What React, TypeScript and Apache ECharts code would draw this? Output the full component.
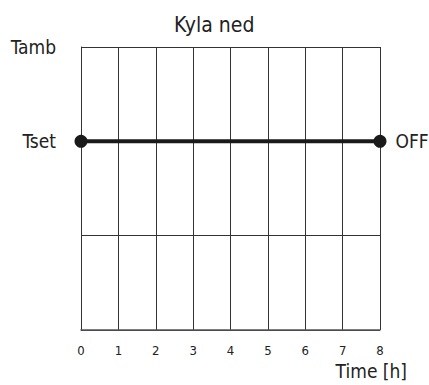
import React, { useEffect, useRef } from "react";
import * as echarts from "echarts";

const hours = [0, 1, 2, 3, 4, 5, 6, 7, 8];
const yTickLabels: Record<number, string> = { 3: "Tamb", 2: "Tset" };
const lineX = [0, 8];
const lineY = [2, 2];
const endLabel = "OFF";
const titleText = "Kyla ned";
const xName = "Time [h]";

const FONT = "'DejaVu Sans Condensed', 'Liberation Sans Narrow', 'Liberation Sans', sans-serif";

export default function App() {
  const ref = useRef<HTMLDivElement>(null);
  useEffect(() => {
    if (!ref.current) return;
    document.body.style.margin = "0";
    const chart = echarts.init(ref.current, undefined, { renderer: "svg" });
    const data = lineX.map((x, i) => {
      const item: any = { value: [x, lineY[i]] };
      if (i === lineX.length - 1) {
        item.label = {
          show: true,
          position: "right",
          distance: 9,
          formatter: endLabel,
          fontFamily: FONT,
          fontSize: 19,
          color: "#222",
        };
      }
      return item;
    });
    chart.setOption({
      animation: false,
      backgroundColor: "#fff",
      title: {
        text: titleText,
        left: 169,
        top: 9,
        textStyle: { fontFamily: FONT, fontSize: 21, fontWeight: "normal", color: "#222" },
      },
      grid: { left: 81, right: 49, top: 47, bottom: 55, containLabel: false },
      xAxis: {
        type: "value",
        min: hours[0],
        max: hours[hours.length - 1],
        interval: 1,
        axisLine: { show: true, lineStyle: { color: "#555", width: 1.5 } },
        axisTick: { show: false },
        axisLabel: {
          margin: 14,
          fontFamily: FONT,
          fontSize: 13,
          color: "#222",
        },
        splitLine: { show: true, lineStyle: { color: "#333", width: 1, type: "solid" } },
      },
      yAxis: {
        type: "value",
        min: 0,
        max: 3,
        interval: 1,
        axisLine: { show: true, lineStyle: { color: "#333", width: 1 } },
        axisTick: { show: false },
        axisLabel: {
          margin: 25,
          fontFamily: FONT,
          fontSize: 19,
          color: "#222",
          formatter: (v: number) => yTickLabels[v] ?? "",
          padding: [10, 0, 0, 0],
        },
        splitLine: { show: true, lineStyle: { color: "#333", width: 1 } },
      },
      graphic: [
        {
          type: "text",
          right: 22,
          top: 361,
          style: {
            text: xName,
            fontFamily: FONT,
            fontSize: 19,
            fill: "#222",
          },
        },
      ],
      series: [
        {
          type: "line",
          data,
          symbol: "circle",
          symbolSize: 13,
          lineStyle: { color: "#1a1a1a", width: 4 },
          itemStyle: { color: "#1a1a1a" },
        },
      ],
    });
    return () => chart.dispose();
  }, []);
  return <div ref={ref} style={{ width: 429, height: 385 }} />;
}
